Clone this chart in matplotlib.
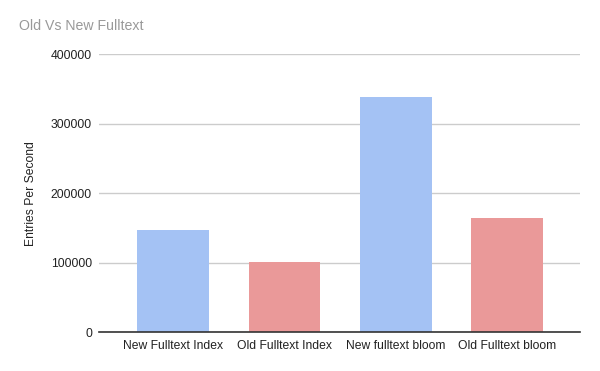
import matplotlib
matplotlib.use("Agg")
import matplotlib.pyplot as plt

categories = ["New Fulltext Index", "Old Fulltext Index", "New fulltext bloom", "Old Fulltext bloom"]
values = [147000, 101000, 338000, 164000]
colors = ["#a4c2f4", "#ea9999", "#a4c2f4", "#ea9999"]
yticks = [0, 100000, 200000, 300000, 400000]

plt.rcParams['font.family'] = ['Liberation Sans', 'DejaVu Sans']
fig = plt.figure(figsize=(6, 3.71), dpi=100)
ax = fig.add_axes([0.165, 0.105, 0.802, 0.749])
x = list(range(len(categories)))
ax.bar(x, values, width=0.645, color=colors, zorder=3)
ax.set_xlim(-0.665, 3.656)
ax.set_ylim(0, 400000)
ax.set_yticks(yticks)
ax.set_yticklabels([str(v) for v in yticks], fontsize=8.7, color="#222222")
ax.set_xticks(x)
ax.set_xticklabels(categories, fontsize=8.7, color="#222222")
ax.grid(axis='y', color="#cccccc", linewidth=1, zorder=0)
for s in ['top', 'right', 'left']:
    ax.spines[s].set_visible(False)
ax.spines['bottom'].set_color("#333333")
ax.spines['bottom'].set_linewidth(1.2)
ax.spines['bottom'].set_zorder(4)
ax.tick_params(axis='both', length=0)
ax.tick_params(axis='y', pad=5)
ax.tick_params(axis='x', pad=6)
ax.set_ylabel("Entries Per Second", fontsize=8.7, color="#222222", labelpad=10)
fig.text(0.032, 0.93, "Old Vs New Fulltext", fontsize=10.2, color="#999999", va='center', ha='left')
fig.savefig("out.png", dpi=100, facecolor="white")
